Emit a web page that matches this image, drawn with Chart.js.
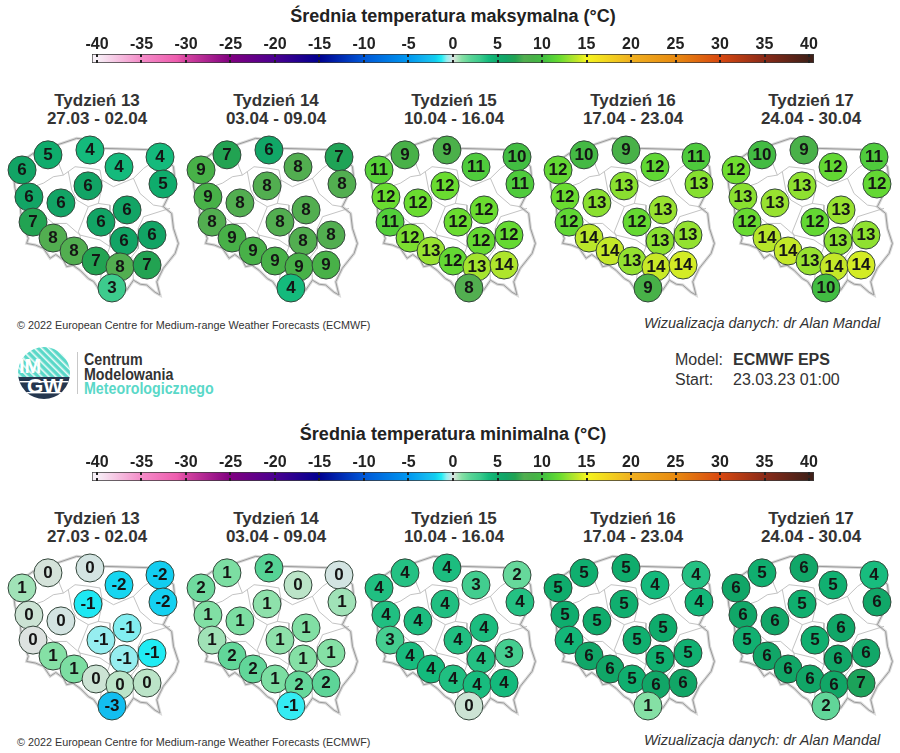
<!DOCTYPE html>
<html lang="pl">
<head>
<meta charset="utf-8">
<title>Średnia temperatura</title>
<script src="https://cdn.jsdelivr.net/npm/chart.js"></script>
<style>
  body { margin: 0; background: #fff; font-family: "Liberation Sans", Arial, sans-serif; color: #2b2b2b; }
  #page { position: relative; width: 900px; height: 753px; overflow: hidden; }
  #page canvas { position: absolute; }
  .txt { position: absolute; white-space: nowrap; }
  .title { font-weight: 700; font-size: 18px; width: 900px; left: 3px; text-align: center; color: #222; }
  .week { font-weight: 700; font-size: 17px; line-height: 18px; width: 170px; text-align: center; color: #333; }
  .copy { font-size: 10.8px; color: #333; left: 17px; }
  .viz { font-size: 14.5px; font-style: italic; color: #333; left: 644px; }
  .meta { font-size: 16px; color: #333; }
  .org { font-size: 16px; line-height: 14.5px; font-weight: 700; left: 84px; top: 353px; color: #333; transform: scaleX(.89); transform-origin: left; }
  .org span { color: #5ad8c8; }
</style>
</head>
<body>
<div id="page">
  <div class="txt title" style="top:6px">Średnia temperatura maksymalna (°C)</div>
  <div class="txt title" style="top:424px">Średnia temperatura minimalna (°C)</div>
  <div class="txt copy" style="top:319px">© 2022 European Centre for Medium-range Weather Forecasts (ECMWF)</div>
  <div class="txt viz" style="top:315px">Wizualizacja danych: dr Alan Mandal</div>
  <div class="txt copy" style="top:736px">© 2022 European Centre for Medium-range Weather Forecasts (ECMWF)</div>
  <div class="txt viz" style="top:732px">Wizualizacja danych: dr Alan Mandal</div>
  <div class="txt meta" style="left:675px;top:351px">Model:</div>
  <div class="txt meta" style="left:733px;top:351px;font-weight:700">ECMWF EPS</div>
  <div class="txt meta" style="left:675px;top:371px">Start:</div>
  <div class="txt meta" style="left:733px;top:371px">23.03.23 01:00</div>
  <div class="txt org">Centrum<br>Modelowania<br><span>Meteorologicznego</span></div>
  <svg style="position:absolute;left:17px;top:346px" width="62" height="54" viewBox="0 0 62 54">
    <defs>
      <clipPath id="disc"><circle cx="27" cy="27" r="26"></circle></clipPath>
      <pattern id="hatch" width="5" height="5" patternUnits="userSpaceOnUse" patternTransform="rotate(-45)">
        <rect width="5" height="5" fill="#5ad8c8"></rect><rect width="1.6" height="5" fill="#e8faf7"></rect>
      </pattern>
    </defs>
    <g clip-path="url(#disc)">
      <rect width="54" height="31" fill="url(#hatch)"></rect>
      <rect y="31" width="54" height="23" fill="#25374f"></rect>
      <rect y="35" width="54" height="1.4" fill="#fff"></rect>
      <rect y="46" width="54" height="1.4" fill="#fff"></rect>
    </g>
    <text x="2" y="27" font-family="Liberation Sans" font-weight="700" font-size="20" fill="#fff">IM</text>
    <text x="10" y="47" font-family="Liberation Sans" font-weight="700" font-size="21" fill="#fff">GW</text>
    <rect x="60" y="6" width="1" height="42" fill="#c8c8c8"></rect>
  </svg>
</div>
<script>
const weekLabels = ["Tydzień 13", "Tydzień 14", "Tydzień 15", "Tydzień 16", "Tydzień 17"];
const weekDates = ["27.03 - 02.04", "03.04 - 09.04", "10.04 - 16.04", "17.04 - 23.04", "24.04 - 30.04"];
const scaleTicks = [-40, -35, -30, -25, -20, -15, -10, -5, 0, 5, 10, 15, 20, 25, 30, 35, 40];
const scaleRange = [-40.56, 40.56];

// forecast points, degrees
const stationLon = [16.07, 18.63, 20.4, 22.9, 14.49, 23.08, 18.51, 14.91, 16.86, 20.89, 15.16, 19.3, 16.38, 22.41, 20.71, 17.66, 19.0, 20.46, 22.11, 19.97];
const stationLat = [54.19, 54.37, 53.74, 54.11, 53.63, 53.11, 53.04, 52.63, 52.41, 52.15, 51.7, 51.7, 51.11, 51.22, 51.0, 50.63, 50.26, 50.04, 50.11, 49.26];

// weekly values, shades give the decimals
const maxWeek13 = [5, 4, 4, 4, 6, 5, 6, 6, 6, 6, 7, 6, 8, 6, 6, 8, 7, 8, 7, 3];
const maxWeek14 = [7, 5.7, 8, 6.8, 9, 8, 8, 9, 8, 8, 8, 8, 9, 8, 8, 9, 9, 9, 9, 4];
const maxWeek15 = [9, 8.7, 10.8, 10, 11.2, 10.8, 12, 12, 12, 12, 11, 12, 12.4, 11.8, 11.8, 13, 11.7, 13.3, 13.5, 8];
const maxWeek16 = [9.7, 9, 11.6, 10.7, 11.7, 12.6, 12.7, 12, 12.7, 13, 11.6, 11.8, 13.8, 12.9, 12.7, 14, 12.9, 14.1, 14.3, 9];
const maxWeek17 = [9.8, 8.9, 11.7, 10.8, 12.1, 11.7, 12.8, 12.7, 13, 13, 11.9, 11.7, 13.7, 12.8, 12.7, 14, 13, 14, 14.3, 10];
const minWeek13 = [0.1, -0.1, -1.8, -2, 0.7, -1.9, -1.4, 0.2, -0.1, -0.8, 0, -0.7, 1, -1.3, -0.7, 1.2, 0.2, 0.4, 0.4, -2.7];
const minWeek14 = [1.2, 2.1, 0.4, -0.1, 1.5, 0.7, 0.9, 1.1, 1.2, 1.1, 0.7, 0.9, 1.8, 1, 1, 1.8, 1.2, 1.7, 1.9, -1.2];
const minWeek15 = [3.6, 3.8, 2.8, 1.7, 3.7, 3.6, 3.7, 3.7, 3.8, 3.8, 2.7, 3.7, 3.9, 2.7, 3.6, 4, 3.7, 3.9, 4, 0.2];
const minWeek16 = [4.8, 5, 4, 3.6, 5, 4.2, 4.8, 4.9, 5, 5, 4.2, 4.8, 5.6, 4.7, 4.8, 5.7, 4.8, 5.7, 5.8, 1];
const minWeek17 = [4.8, 5.6, 4.7, 3.9, 5.7, 5.6, 4.8, 5.6, 5.7, 5.6, 4.7, 4.8, 5.7, 5.6, 5.7, 5.8, 5.7, 5.8, 6.6, 1.8];

// colour scale
const colorValues = [-40, -35, -31, -30, -25, -20, -15, -10, -5, -3, -2, -1.3, -0.7, 0, 0.4, 1, 2, 3, 4, 5, 6, 7, 8, 9, 10, 11, 12, 13, 14, 15, 20, 25, 30, 35, 40];
const colorHex = ["#f7f0f7", "#f48cc8", "#ee5cae", "#d4429f", "#800080", "#4a0090", "#000090", "#0058d8", "#0098f0", "#14b8f0", "#12cdf0", "#20ecf4", "#96eef0", "#dde2e0", "#bbe4c8", "#85e0a5", "#58d496", "#3dcb8d", "#14ba7c", "#0fac6c", "#12a465", "#22a352", "#52ae50", "#48b148", "#42bd42", "#52cf3a", "#6adc30", "#98e230", "#c4e828", "#f5f51e", "#f0b020", "#e88a10", "#d84810", "#8a2a18", "#402018"];

// country outline and region borders, degrees
const outlineLon = [14.06, 14.37, 14.47, 14.87, 14.77, 15.3, 15.79, 16.2, 16.55, 17.01, 17.21, 17.6, 18.02, 18.53, 18.85, 19.14, 19.6, 20.06, 20.87, 21.28, 21.7, 22.09, 22.6, 22.9, 22.7, 23.1, 23.82, 24.02, 23.72, 23.61, 23.1, 23.41, 23.82, 23.72, 22.9, 19.45, 18.84, 17.82, 16.6, 15.18, 14.16, 13.96, 14.06];
const outlineLat = [52.95, 52.33, 51.71, 51.1, 50.91, 50.85, 50.73, 50.36, 50.5, 50.29, 50.05, 50.1, 49.92, 49.61, 49.5, 49.25, 49.4, 48.93, 49.18, 49.55, 49.4, 49.37, 49.1, 49.0, 49.49, 49.99, 50.54, 50.91, 51.47, 52.02, 52.27, 52.64, 53.2, 53.75, 54.37, 54.43, 54.74, 54.8, 54.55, 54.25, 53.81, 53.44, 52.95];
const regionBorders = [
  [[16.6, 54.12], [16.8, 53.75], [17.01, 53.44], [16.4, 53.38], [15.79, 53.14], [15.18, 53.01], [14.3, 52.95]],
  [[17.01, 53.44], [17.31, 53.57], [17.72, 53.75], [18.63, 53.69], [19.24, 53.63], [19.35, 53.26], [19.35, 52.95], [19.14, 52.39], [18.53, 52.27], [17.82, 52.52], [17.52, 52.89], [17.31, 53.57]],
  [[19.35, 53.26], [20.06, 53.01], [21.28, 53.32], [21.9, 53.69], [22.19, 53.81]],
  [[21.28, 53.32], [21.68, 52.76], [22.5, 52.33], [23.1, 52.27]],
  [[23.51, 52.21], [21.9, 51.9], [21.58, 51.47], [21.58, 50.73], [21.18, 50.42], [21.28, 49.55]],
  [[18.53, 52.27], [17.92, 51.34], [18.02, 51.22], [18.13, 50.73], [17.62, 50.54], [17.11, 50.29]],
  [[15.18, 53.01], [15.48, 52.58], [15.28, 52.21], [15.89, 51.9], [16.4, 51.65], [17.21, 51.65], [18.02, 51.22]],
  [[18.02, 51.22], [19.24, 51.04], [19.85, 50.79], [19.35, 49.99], [19.24, 49.37]],
  [[19.14, 52.39], [19.85, 52.33], [19.85, 51.34], [19.85, 50.79], [21.58, 50.73]],
  [[19.85, 49.87], [21.18, 50.42]],
];

const panelMaps = [
  { top: 130, weeks: [maxWeek13, maxWeek14, maxWeek15, maxWeek16, maxWeek17] },
  { top: 548, weeks: [minWeek13, minWeek14, minWeek15, minWeek16, minWeek17] },
];
const page = document.getElementById("page");

function hexToRgb(hex) {
  return [1, 3, 5].map((i) => parseInt(hex.slice(i, i + 2), 16));
}

function tempColor(value) {
  let i = colorValues.findIndex((v) => v >= value);
  if (i <= 0) return colorHex[0];
  const t = (value - colorValues[i - 1]) / (colorValues[i] - colorValues[i - 1]);
  const a = hexToRgb(colorHex[i - 1]);
  const b = hexToRgb(colorHex[i]);
  return `rgb(${a.map((c, k) => Math.round(c + (b[k] - c) * t)).join(",")})`;
}

function addCanvas(left, top, width, height) {
  const canvas = document.createElement("canvas");
  canvas.width = width;
  canvas.height = height;
  canvas.style.left = left + "px";
  canvas.style.top = top + "px";
  canvas.style.width = width + "px";
  canvas.style.height = height + "px";
  page.appendChild(canvas);
  return canvas;
}

// digits on the station circles
const stationLabels = {
  id: "stationLabels",
  afterDatasetsDraw(chart) {
    const { ctx } = chart;
    const points = chart.getDatasetMeta(0).data;
    ctx.save();
    ctx.font = '700 17px "Liberation Sans"';
    ctx.textAlign = "center";
    ctx.textBaseline = "middle";
    ctx.fillStyle = "#151515";
    points.forEach((point, i) => {
      const label = String(Math.round(chart.data.datasets[0].values[i]) + 0);
      ctx.fillText(label, point.x, point.y + 0.5);
    });
    ctx.restore();
  },
};

function drawPanel(values, left, top) {
  const canvas = addCanvas(left, top, 178, 175);
  const lineSet = (data, color, width) => ({
    data,
    showLine: true,
    borderColor: color,
    borderWidth: width,
    pointRadius: 0,
    tension: 0,
    clip: false,
  });
  const outline = outlineLon.map((lon, i) => ({ x: lon, y: outlineLat[i] }));
  new Chart(canvas, {
    type: "scatter",
    data: {
      datasets: [
        {
          values,
          data: stationLon.map((lon, i) => ({ x: lon, y: stationLat[i] })),
          pointRadius: 14,
          pointBackgroundColor: values.map(tempColor),
          pointBorderColor: "#33453a",
          pointBorderWidth: 1,
          clip: false,
        },
        lineSet(outline, "#9a9a9a", 1),
        ...regionBorders.map((line) => lineSet(line.map(([x, y]) => ({ x, y })), "#b4b4b4", 0.8)),
        lineSet(outline, "rgba(170,170,170,0.45)", 3),
      ],
    },
    options: {
      responsive: false,
      animation: false,
      events: [],
      plugins: { legend: { display: false }, tooltip: { enabled: false } },
      layout: { padding: 0, autoPadding: false },
      scales: {
        x: { type: "linear", display: false, min: 13.39, max: 24.24 },
        y: { type: "linear", display: false, min: 48.63, max: 55.11 },
      },
    },
    plugins: [stationLabels],
  });
}

function drawColorBar(top) {
  const canvas = addCanvas(0, top, 900, 44);
  const fill = (context) => {
    const { chartArea, scales } = context.chart;
    if (!chartArea) return colorHex[0];
    const x0 = scales.x.getPixelForValue(scaleRange[0]);
    const x1 = scales.x.getPixelForValue(scaleRange[1]);
    const gradient = context.chart.ctx.createLinearGradient(x0, 0, x1, 0);
    colorValues.forEach((v, i) => {
      gradient.addColorStop((v - scaleRange[0]) / (scaleRange[1] - scaleRange[0]), colorHex[i]);
    });
    return gradient;
  };
  new Chart(canvas, {
    type: "bar",
    data: {
      labels: [""],
      datasets: [
        {
          data: [scaleRange],
          backgroundColor: fill,
          borderColor: "#3a3a3a",
          borderWidth: 1,
          borderSkipped: false,
          barPercentage: 1,
          categoryPercentage: 1,
        },
      ],
    },
    options: {
      indexAxis: "y",
      responsive: false,
      animation: false,
      events: [],
      plugins: { legend: { display: false }, tooltip: { enabled: false } },
      layout: { padding: { left: 92, right: 86, top: 0, bottom: 1 } },
      scales: {
        x: {
          type: "linear",
          position: "top",
          min: scaleRange[0],
          max: scaleRange[1],
          afterBuildTicks(axis) {
            axis.ticks = scaleTicks.map((value) => ({ value }));
          },
          afterFit(axis) {
            axis.height = 34;
          },
          ticks: {
            autoSkip: false,
            maxRotation: 0,
            padding: 0,
            color: "#222",
            font: { family: "Liberation Sans", size: 16, weight: "700" },
          },
          grid: { color: "#222", lineWidth: 2, tickLength: 0, z: 1 },
          border: { display: false, dash: [3, 3] },
        },
        y: { display: false },
      },
    },
  });
}

drawColorBar(20);
drawColorBar(438);

panelMaps.forEach((panel) => {
  panel.weeks.forEach((values, i) => {
    const left = Math.round(4 + 178.5 * i);
    drawPanel(values, left, panel.top);
    const head = document.createElement("div");
    head.className = "txt week";
    head.style.left = Math.round(12 + 178.5 * i) + "px";
    head.style.top = panel.top - 38 + "px";
    head.innerHTML = `${weekLabels[i]}<br>${weekDates[i]}`;
    page.appendChild(head);
  });
});
</script>
</body>
</html>
